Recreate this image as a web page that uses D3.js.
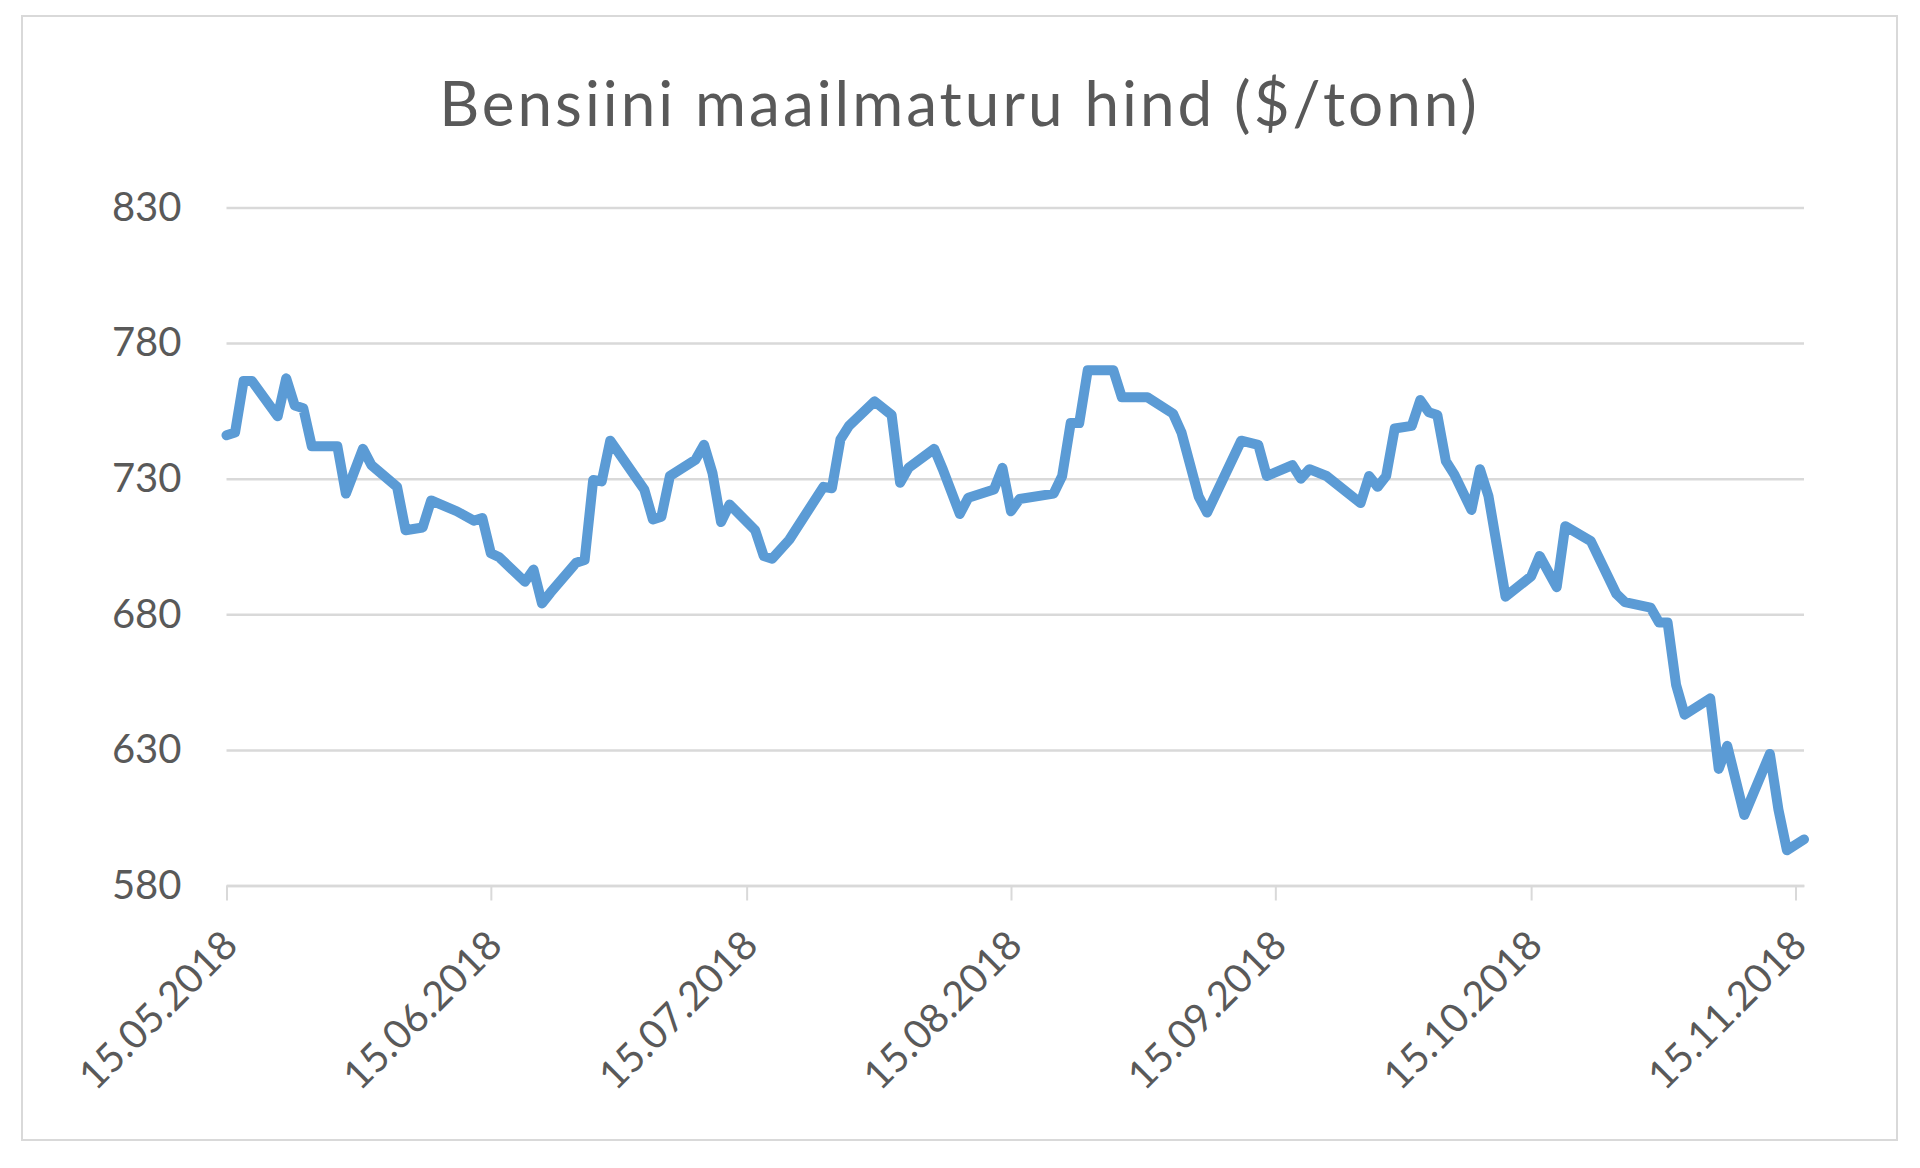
<!DOCTYPE html>
<html>
<head>
<meta charset="utf-8">
<script src="https://cdn.jsdelivr.net/npm/d3@7"></script>
<style>
  body { margin: 0; background: #fff; }
  svg text { font-family: Lato, "Open Sans", sans-serif; fill: #595959; }
</style>
</head>
<body>
<div class="display"></div>
<script>
// Gasoline world market price, $/ton

const WIDTH = 1920;
const HEIGHT = 1168;

const TITLE = 'Bensiini maailmaturu hind ($/tonn)';

const dates = [
  '2018-05-15', '2018-05-16', '2018-05-17', '2018-05-18', '2018-05-21', '2018-05-22', '2018-05-23', '2018-05-24',
  '2018-05-25', '2018-05-28', '2018-05-29', '2018-05-31', '2018-06-01', '2018-06-04', '2018-06-05', '2018-06-07',
  '2018-06-08', '2018-06-11', '2018-06-13', '2018-06-14', '2018-06-15', '2018-06-16', '2018-06-19', '2018-06-20',
  '2018-06-21', '2018-06-22', '2018-06-25', '2018-06-26', '2018-06-27', '2018-06-28', '2018-06-29', '2018-07-03',
  '2018-07-04', '2018-07-05', '2018-07-06', '2018-07-09', '2018-07-10', '2018-07-11', '2018-07-12', '2018-07-13',
  '2018-07-16', '2018-07-17', '2018-07-18', '2018-07-20', '2018-07-24', '2018-07-25', '2018-07-26', '2018-07-27',
  '2018-07-30', '2018-08-01', '2018-08-02', '2018-08-03', '2018-08-06', '2018-08-07', '2018-08-09', '2018-08-10',
  '2018-08-13', '2018-08-14', '2018-08-15', '2018-08-16', '2018-08-20', '2018-08-21', '2018-08-22', '2018-08-23',
  '2018-08-24', '2018-08-27', '2018-08-28', '2018-08-31', '2018-09-03', '2018-09-04', '2018-09-06', '2018-09-07',
  '2018-09-11', '2018-09-13', '2018-09-14', '2018-09-17', '2018-09-18', '2018-09-19', '2018-09-21', '2018-09-25',
  '2018-09-26', '2018-09-27', '2018-09-28', '2018-09-29', '2018-10-01', '2018-10-02', '2018-10-03', '2018-10-04',
  '2018-10-05', '2018-10-06', '2018-10-08', '2018-10-09', '2018-10-10', '2018-10-12', '2018-10-15', '2018-10-16',
  '2018-10-18', '2018-10-19', '2018-10-22', '2018-10-25', '2018-10-26', '2018-10-29', '2018-10-30', '2018-10-31',
  '2018-11-01', '2018-11-02', '2018-11-05', '2018-11-06', '2018-11-07', '2018-11-09', '2018-11-12', '2018-11-13',
  '2018-11-14', '2018-11-16'
];

const prices = [
  746, 747, 766, 766, 753, 767, 757, 756,
  742, 742, 724.5, 741, 735, 727, 711, 712,
  722, 718, 714.5, 715.5, 702.5, 701, 692, 696.5,
  684, 688, 699, 700, 729.5, 729, 744, 726,
  715, 716, 731, 737, 742.5, 732, 714, 720.5,
  711, 701.5, 700.5, 707.5, 727, 726.5, 744.5, 749.5,
  758.5, 753.5, 728.5, 734, 741, 733.5, 717, 723,
  726, 734, 718, 722.5, 724.5, 731, 750.5, 750.5,
  770, 770, 760, 760, 754, 747, 723.5, 717.5,
  744, 742.5, 731, 735, 730, 733.5, 731, 721,
  731, 727, 731, 748.5, 749.5, 759, 754.5, 753.5,
  736.5, 731.5, 718.5, 733.5, 723.5, 686.5, 694, 701.5,
  690, 712.5, 707, 687.5, 684.5, 682.5, 677, 677,
  654, 643, 649, 623, 631.5, 606, 628.5, 608,
  593, 597
];

const yTicks = [580, 630, 680, 730, 780, 830];
const xTickDates = ['2018-05-15', '2018-06-15', '2018-07-15', '2018-08-15', '2018-09-15', '2018-10-15', '2018-11-15'];

const PLOT_LEFT = 226.5;
const PLOT_RIGHT = 1804;
const PLOT_TOP = 207.5;
const PLOT_BOTTOM = 885.5;

const parseDate = d3.timeParse('%Y-%m-%d');
const formatDate = d3.timeFormat('%d.%m.%Y');

const svg = d3.select('.display')
  .append('svg')
  .attr('width', WIDTH)
  .attr('height', HEIGHT);

// Chart frame
svg.append('rect')
  .attr('x', 22)
  .attr('y', 16)
  .attr('width', 1875)
  .attr('height', 1124)
  .attr('fill', '#fff')
  .attr('stroke', '#d9d9d9')
  .attr('stroke-width', 2);

svg.append('text')
  .attr('x', 959.5)
  .attr('y', 126)
  .attr('text-anchor', 'middle')
  .style('font-size', '62px')
  .style('letter-spacing', '3px')
  .text(TITLE);

const data = dates.map((d, i) => ({ date: parseDate(d), value: prices[i] }));

const x = d3.scaleTime()
  .domain([parseDate('2018-05-15'), parseDate('2018-11-16')])
  .range([PLOT_LEFT, PLOT_RIGHT]);

const y = d3.scaleLinear()
  .domain([580, 830])
  .range([PLOT_BOTTOM, PLOT_TOP]);

// Gridlines + y labels
const yAxis = svg.append('g')
  .attr('transform', `translate(${PLOT_LEFT}, 0)`)
  .call(d3.axisLeft(y).tickValues(yTicks).tickSize(-(PLOT_RIGHT - PLOT_LEFT)).tickPadding(45));
yAxis.select('.domain').remove();
yAxis.selectAll('.tick line')
  .attr('stroke', '#d9d9d9')
  .attr('stroke-width', 2.5);
yAxis.selectAll('.tick text')
  .attr('fill', '#595959')
  .style('font-size', '40px')
  .style('font-family', 'Lato, sans-serif');

// Date axis
const xAxis = svg.append('g')
  .attr('transform', `translate(0, ${PLOT_BOTTOM})`)
  .call(d3.axisBottom(x).tickValues(xTickDates.map(parseDate)).tickFormat(formatDate).tickSize(15).tickSizeOuter(0));
xAxis.select('.domain')
  .attr('stroke', '#d9d9d9')
  .attr('stroke-width', 2.5);
xAxis.selectAll('.tick line')
  .attr('stroke', '#d9d9d9')
  .attr('stroke-width', 2);
xAxis.selectAll('.tick text')
  .attr('fill', '#595959')
  .style('font-size', '40px')
  .style('font-family', 'Lato, sans-serif')
  .attr('text-anchor', 'end')
  .attr('dy', null)
  .attr('y', null)
  .attr('transform', 'translate(13, 62) rotate(-45)');

// Price line
const line = d3.line()
  .x(d => x(d.date))
  .y(d => y(d.value));

svg.append('path')
  .datum(data)
  .attr('d', line)
  .attr('fill', 'none')
  .attr('stroke', '#5b9bd5')
  .attr('stroke-width', 10)
  .attr('stroke-linejoin', 'round')
  .attr('stroke-linecap', 'round');
</script>
</body>
</html>
